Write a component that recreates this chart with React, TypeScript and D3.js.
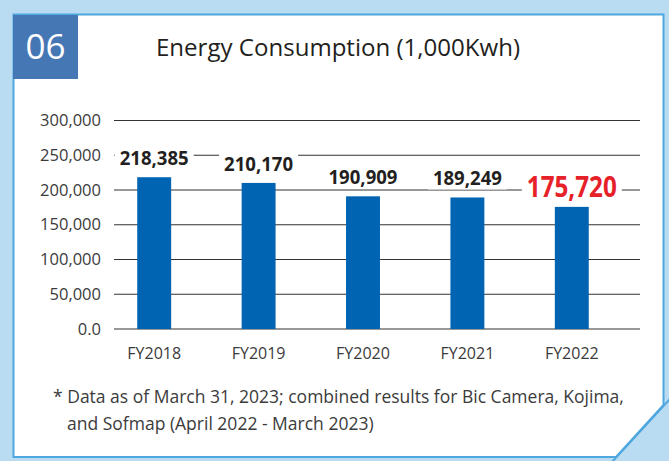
import { useEffect, useRef } from 'react';
import * as d3 from 'd3';

// chart values
const years = ['FY2018', 'FY2019', 'FY2020', 'FY2021', 'FY2022'];
const consumption = [218385, 210170, 190909, 189249, 175720];
const valueLabels = ['218,385', '210,170', '190,909', '189,249', '175,720'];
const yTicks = [0, 50000, 100000, 150000, 200000, 250000, 300000];
const yTickLabels = ['0.0', '50,000', '100,000', '150,000', '200,000', '250,000', '300,000'];
const highlightYear = 'FY2022';
const chartNumber = '06';
const chartTitle = 'Energy Consumption (1,000Kwh)';
const footnoteLines = [
  '* Data as of March 31, 2023; combined results for Bic Camera, Kojima,',
  'and Sofmap (April 2022 - March 2023)',
];

const W = 669;
const H = 461;
const FONT = "'Open Sans', 'Noto Sans', sans-serif";

const App = () => {
  const ref = useRef<SVGSVGElement | null>(null);

  useEffect(() => {
    const svg = d3.select(ref.current);
    svg.selectAll('*').remove();

    // background + panel
    svg.append('rect').attr('width', W).attr('height', H).attr('fill', '#b9dcf3');
    svg
      .append('path')
      .attr('d', 'M13.5,14.5 H663.5 V405 L616,457 H13.5 Z')
      .attr('fill', '#fff')
      .attr('stroke', '#4ea7de')
      .attr('stroke-width', 2);
    svg
      .append('line')
      .attr('x1', 670).attr('y1', 399)
      .attr('x2', 612).attr('y2', 462)
      .attr('stroke', '#4ea7de')
      .attr('stroke-width', 2);

    // number box
    svg.append('rect').attr('x', 13).attr('y', 15).attr('width', 65).attr('height', 64).attr('fill', '#4677b5');
    svg
      .append('text')
      .attr('x', 45.5).attr('y', 59)
      .attr('text-anchor', 'middle')
      .attr('font-family', FONT)
      .attr('font-size', 35)
      .attr('fill', '#fff')
      .text(chartNumber);

    svg
      .append('text')
      .attr('x', 156).attr('y', 56)
      .attr('font-family', FONT)
      .attr('font-size', 23)
      .attr('fill', '#231f20')
      .attr('textLength', 364)
      .attr('lengthAdjust', 'spacingAndGlyphs')
      .text(chartTitle);

    // scales
    const y = d3.scaleLinear().domain([0, 300000]).range([329, 120.5]);
    const x = d3
      .scaleBand()
      .domain(years)
      .range([102, 624])
      .paddingInner(0.675)
      .paddingOuter(0.3375);

    // grid
    svg
      .append('g')
      .selectAll('line')
      .data(yTicks)
      .join('line')
      .attr('x1', 114).attr('x2', 640)
      .attr('y1', d => y(d)).attr('y2', d => y(d))
      .attr('stroke', '#333')
      .attr('stroke-width', 1.1);

    svg
      .append('g')
      .selectAll('text')
      .data(yTicks)
      .join('text')
      .attr('x', 101)
      .attr('y', d => y(d) + 5.5)
      .attr('text-anchor', 'end')
      .attr('font-family', FONT)
      .attr('font-size', 16.5)
      .attr('fill', '#3b3b3b')
      .text((d, i) => yTickLabels[i]);

    // bars
    svg
      .append('g')
      .selectAll('rect')
      .data(years)
      .join('rect')
      .attr('x', d => x(d)!)
      .attr('width', x.bandwidth())
      .attr('y', (d, i) => y(consumption[i]))
      .attr('height', (d, i) => y(0) - y(consumption[i]))
      .attr('fill', '#0064b2');

    // x labels
    svg
      .append('g')
      .selectAll('text')
      .data(years)
      .join('text')
      .attr('x', d => x(d)! + x.bandwidth() / 2)
      .attr('y', 359)
      .attr('text-anchor', 'middle')
      .attr('font-family', FONT)
      .attr('font-size', 16)
      .attr('fill', '#3b3b3b')
      .text(d => d);

    // value labels with white backing that breaks the gridlines
    const labels = svg.append('g');
    years.forEach((yr, i) => {
      const hi = yr === highlightYear;
      const g = labels.append('g');
      const cx = x(yr)! + x.bandwidth() / 2;
      const t = g
        .append('text')
        .attr('x', cx)
        .attr('y', y(consumption[i]) - (hi ? 10 : 12))
        .attr('text-anchor', 'middle')
        .attr('font-family', FONT)
        .attr('font-weight', 700)
        .attr('font-size', hi ? 28 : 19.5)
        .attr('fill', hi ? '#e62129' : '#231f20')
        .attr('textLength', hi ? 90 : 69)
        .attr('lengthAdjust', 'spacingAndGlyphs')
        .text(valueLabels[i]);
      const bb = (t.node() as SVGTextElement).getBBox();
      g.insert('rect', 'text')
        .attr('x', bb.x - 5)
        .attr('y', bb.y + 2)
        .attr('width', bb.width + 10)
        .attr('height', bb.height - 4)
        .attr('fill', '#fff');
    });

    // footnote
    svg
      .append('g')
      .selectAll('text')
      .data(footnoteLines)
      .join('text')
      .attr('x', (d, i) => (i === 0 ? 53 : 67))
      .attr('y', (d, i) => 403 + i * 27)
      .attr('font-family', FONT)
      .attr('font-size', 17.5)
      .attr('fill', '#3b3b3b')
      .text(d => d);
  }, []);

  return (
    <svg
      ref={ref}
      width={W}
      height={H}
      style={{ position: 'absolute', left: 0, top: 0, display: 'block' }}
    />
  );
};

export default App;
